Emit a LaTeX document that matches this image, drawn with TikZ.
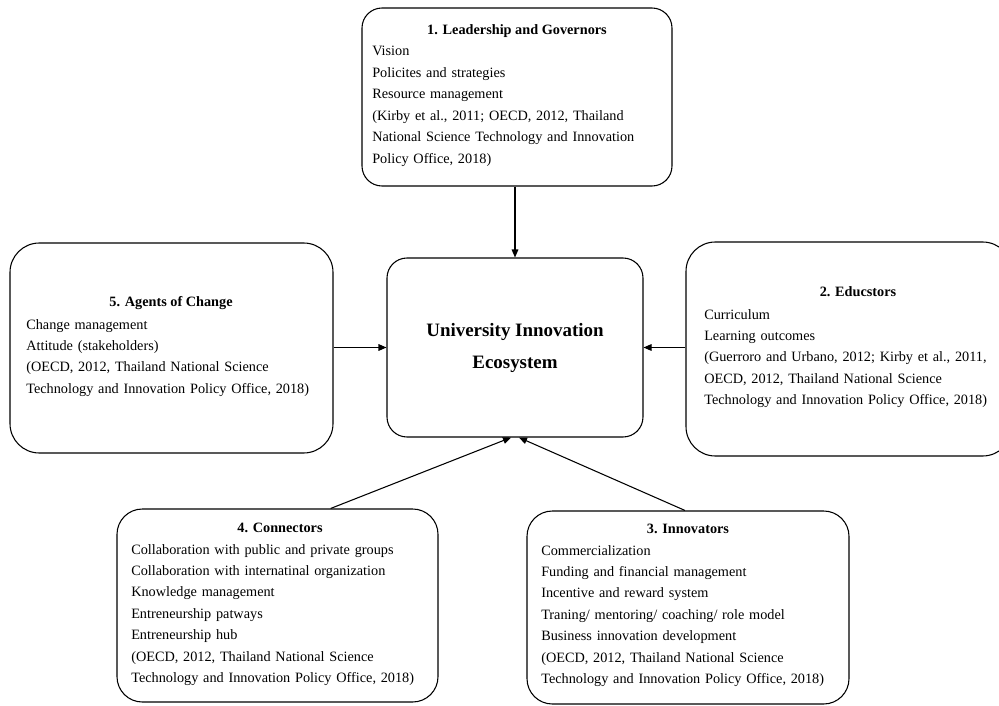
\documentclass[tikz,border=0pt]{standalone}
\usepackage{fontspec}
\setmainfont{Liberation Serif}
\usetikzlibrary{fit,calc,arrows.meta}
\begin{document}
\begin{tikzpicture}[x=0.75pt,y=-0.75pt,
  panel/.style={draw, line width=0.8pt, rounded corners=#1, inner sep=0pt},
  panel/.default=15pt,
  head/.style={anchor=base, inner sep=0pt, font=\fontsize{10.7}{16.1}\selectfont\bfseries},
  body/.style={anchor=base west, inner sep=0pt, text width=250pt, align=left,
               font=\fontsize{10.7}{16.1}\selectfont},
  link/.style={draw, line width=0.8pt, -{Triangle[length=6pt,width=5pt]}}]

\useasboundingbox (0,0) rectangle (999,706);
\clip (0,0) rectangle (999,706);

% frames
\node[panel=15pt, fit={(362,8) (672,186)}] (b1) {};
\node[panel=15pt, fit={(387,258) (643,437)}] (c) {};
\node[panel=22pt, fit={(10,243) (333,453)}] (b5) {};
\node[panel=22pt, fit={(686,242) (1012,456)}] (b2) {};
\node[panel=19pt, fit={(117,509) (438,702)}] (b4) {};
\node[panel=19pt, fit={(527,511) (849,704)}] (b3) {};

% centre
\node[inner sep=0pt, align=center, font=\fontsize{14.2}{24}\selectfont\bfseries] (ct) at (c)
  {University Innovation\\Ecosystem};

% 1. Leadership and Governors
\node[head] (t1) at (517,35) {1. Leadership and Governors};
\node[body] (x1) at (372,56) {Vision\\Policites and strategies\\Resource management\\(Kirby et al., 2011; OECD, 2012, Thailand\\National Science Technology and Innovation\\Policy Office, 2018)};

% 5. Agents of Change
\node[head] (t5) at (171,306) {5. Agents of Change};
\node[body] (x5) at (26,329) {Change management\\Attitude (stakeholders)\\(OECD, 2012, Thailand National Science\\Technology and Innovation Policy Office, 2018)};

% 2. Educstors
\node[head] (t2) at (858,296) {2. Educstors};
\node[body] (x2) at (704,319) {Curriculum\\Learning outcomes\\(Guerroro and Urbano, 2012; Kirby et al., 2011,\\OECD, 2012, Thailand National Science\\Technology and Innovation Policy Office, 2018)};

% 4. Connectors
\node[head] (t4) at (280,532) {4. Connectors};
\node[body] (x4) at (131,554) {Collaboration with public and private groups\\Collaboration with internatinal organization\\Knowledge management\\Entreneurship patways\\Entreneurship hub\\(OECD, 2012, Thailand National Science\\Technology and Innovation Policy Office, 2018)};

% 3. Innovators
\node[head] (t3) at (688,533) {3. Innovators};
\node[body] (x3) at (541,555) {Commercialization\\Funding and financial management\\Incentive and reward system\\Traning/ mentoring/ coaching/ role model\\Business innovation development\\(OECD, 2012, Thailand National Science\\Technology and Innovation Policy Office, 2018)};

% connectors
\draw[link] (b1.south -| c.north) -- (c.north);
\draw[link] (b5.east |- c.west) -- (c.west);
\draw[link] (b2.west |- c.east) -- (c.east);
\draw[link] ($(b4.north)!0.33!(b4.north east)$) -- ($(c.south)+(-4,0)$);
\draw[link] ($(b3.north)+(-3,0)$) -- ($(c.south)+(4,0)$);
\end{tikzpicture}
\end{document}
